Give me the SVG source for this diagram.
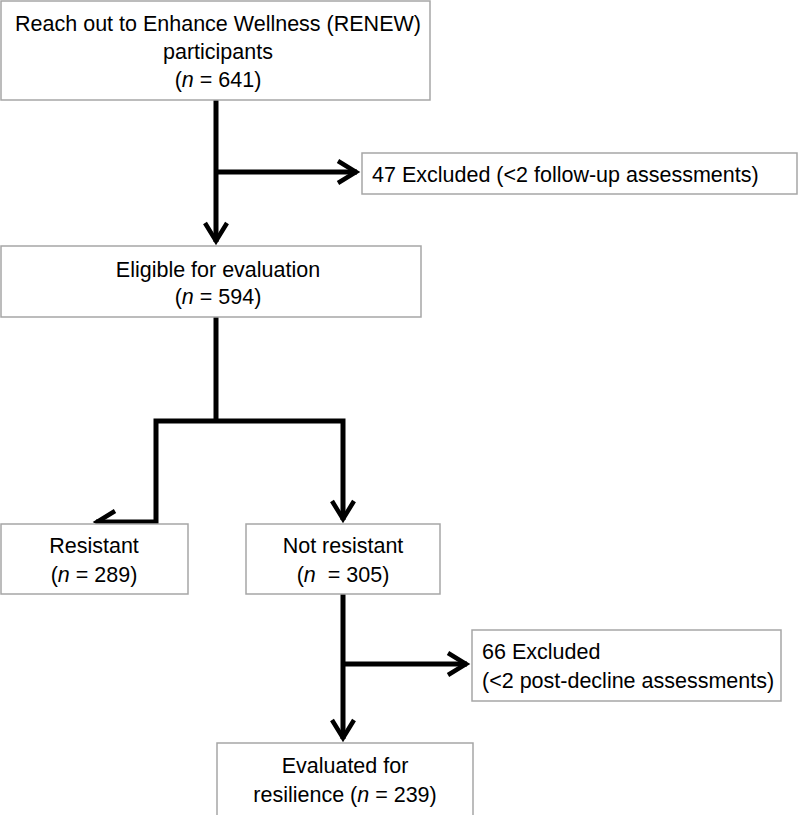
<svg xmlns="http://www.w3.org/2000/svg" width="800" height="815" viewBox="0 0 800 815">
<style>
.box{fill:#fff;stroke:#a6a6a6;stroke-width:1.5}
.t{font-family:"Liberation Sans",Arial,sans-serif;font-size:21.5px;fill:#000}
.c{text-anchor:middle}
.ln{fill:none;stroke:#000;stroke-width:5;stroke-linejoin:miter}
</style>
<defs>
<marker id="ah" markerUnits="userSpaceOnUse" markerWidth="40" markerHeight="40" viewBox="-25 -20 40 40" refX="0" refY="0" orient="auto" overflow="visible">
<path d="M-19,-11 L-1,0 L-19,11" fill="none" stroke="#000" stroke-width="4.5"/>
</marker>
</defs>
<rect width="800" height="815" fill="#fff"/>
<g id="connectors">
<path class="ln" d="M216,100 V242" marker-end="url(#ah)"/>
<path class="ln" d="M216,172 H357" marker-end="url(#ah)"/>
<path class="ln" d="M216,317 V421"/>
<path class="ln" d="M216,421 H156 V522 H96" marker-end="url(#ah)"/>
<path class="ln" d="M216,421 H343 V520" marker-end="url(#ah)"/>
<path class="ln" d="M343,594 V739" marker-end="url(#ah)"/>
<path class="ln" d="M343,664 H467" marker-end="url(#ah)"/>
</g>
<g id="n1">
<rect class="box" x="1" y="1" width="429" height="99"/>
<text class="t c" x="218" y="31">Reach out to Enhance Wellness (RENEW)</text>
<text class="t c" x="218" y="59">participants</text>
<text class="t c" x="218" y="87">(<tspan font-style="italic">n</tspan> = 641)</text>
</g>
<g id="n2">
<rect class="box" x="362" y="153" width="435" height="41"/>
<text class="t" x="372" y="182">47 Excluded (&lt;2 follow-up assessments)</text>
</g>
<g id="n3">
<rect class="box" x="1" y="246" width="420" height="71"/>
<text class="t c" x="218" y="277">Eligible for evaluation</text>
<text class="t c" x="218" y="304">(<tspan font-style="italic">n</tspan> = 594)</text>
</g>
<g id="n4">
<rect class="box" x="1" y="524" width="187" height="70"/>
<text class="t c" x="94" y="553">Resistant</text>
<text class="t c" x="94" y="582">(<tspan font-style="italic">n</tspan> = 289)</text>
</g>
<g id="n5">
<rect class="box" x="246" y="524" width="194" height="70"/>
<text class="t c" x="343" y="553">Not resistant</text>
<text class="t c" x="343" y="582" xml:space="preserve">(<tspan font-style="italic">n</tspan>  = 305)</text>
</g>
<g id="n6">
<rect class="box" x="472" y="630" width="309" height="71"/>
<text class="t" x="482" y="659">66 Excluded</text>
<text class="t" x="482" y="688">(&lt;2 post-decline assessments)</text>
</g>
<g id="n7">
<rect class="box" x="217" y="743" width="256" height="80"/>
<text class="t c" x="345" y="773">Evaluated for</text>
<text class="t c" x="345" y="802">resilience (<tspan font-style="italic">n</tspan> = 239)</text>
</g>
</svg>
